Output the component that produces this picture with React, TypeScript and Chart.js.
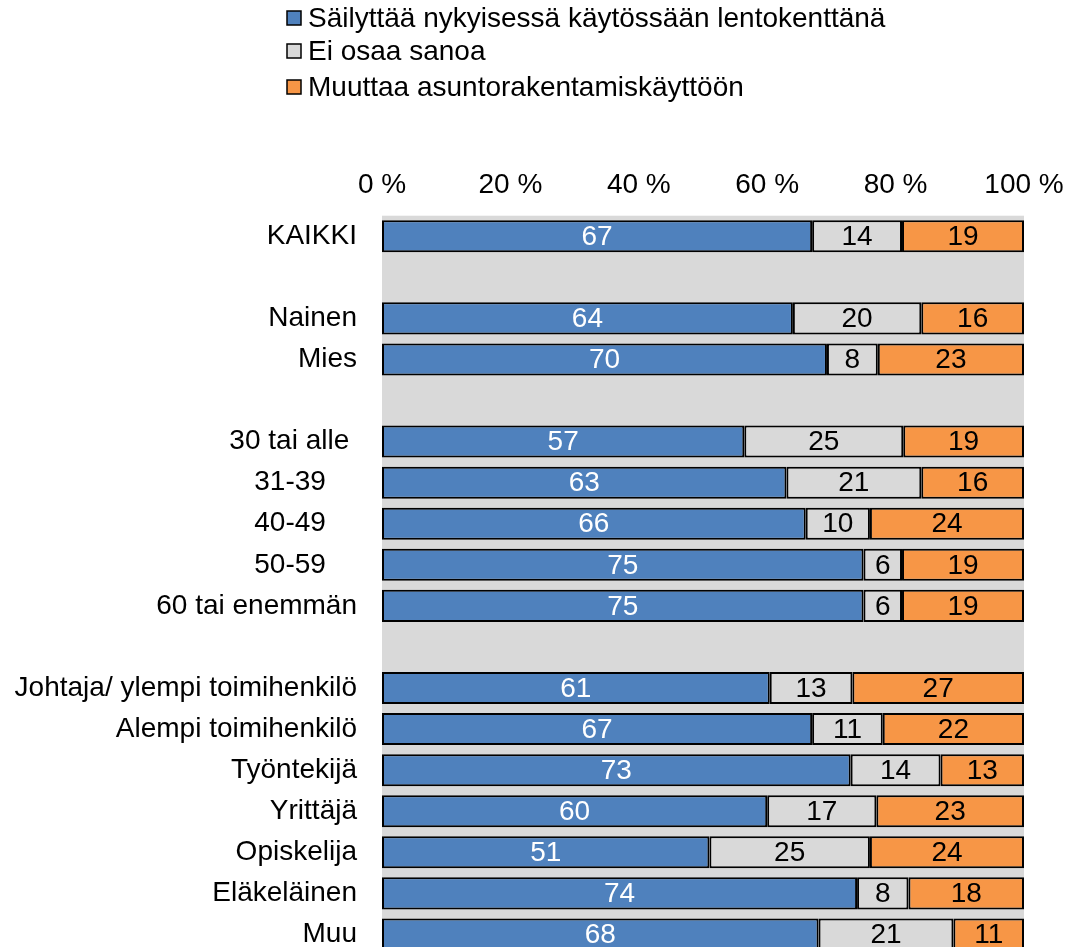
import { useEffect, useRef } from "react";
import { Chart, registerables } from "chart.js";

Chart.register(...registerables);

const categories = [
  "KAIKKI",
  "",
  "Nainen",
  "Mies",
  "",
  "30 tai alle ",
  "31-39    ",
  "40-49    ",
  "50-59    ",
  "60 tai enemmän",
  "",
  "Johtaja/ ylempi toimihenkilö",
  "Alempi toimihenkilö",
  "Työntekijä",
  "Yrittäjä",
  "Opiskelija",
  "Eläkeläinen",
  "Muu",
];

const seriesNames = [
  "Säilyttää nykyisessä käytössään lentokenttänä",
  "Ei osaa sanoa",
  "Muuttaa asuntorakentamiskäyttöön",
];

const keepValues = [67, null, 64, 70, null, 57, 63, 66, 75, 75, null, 61, 67, 73, 60, 51, 74, 68];
const dontKnowValues = [14, null, 20, 8, null, 25, 21, 10, 6, 6, null, 13, 11, 14, 17, 25, 8, 21];
const housingValues = [19, null, 16, 23, null, 19, 16, 24, 19, 19, null, 27, 22, 13, 23, 24, 18, 11];

const xTicks = [0, 20, 40, 60, 80, 100];

const colors = ["#4f81bd", "#d9d9d9", "#f79646"];
const labelColors = ["#ffffff", "#000000", "#000000"];
const FONT = "'Liberation Sans', Arial, sans-serif";
const FS = 28;

const raw = [keepValues, dontKnowValues, housingValues];
const rowSums = categories.map((_, i) =>
  raw.reduce((s, arr) => s + (arr[i] ?? 0), 0)
);
const normalized = raw.map((arr) =>
  arr.map((v, i) => (v == null ? null : (v / rowSums[i]) * 100))
);

const bgPlugin = {
  id: "plotBg",
  beforeDraw(chart: any) {
    const { ctx, chartArea } = chart;
    ctx.save();
    ctx.fillStyle = "#d9d9d9";
    ctx.fillRect(chartArea.left, chartArea.top, chartArea.right - chartArea.left, chartArea.bottom - chartArea.top);
    ctx.restore();
  },
};

const valueLabelPlugin = {
  id: "valueLabels",
  afterDatasetsDraw(chart: any) {
    const { ctx } = chart;
    ctx.save();
    ctx.font = `${FS}px ${FONT}`;
    ctx.textAlign = "center";
    ctx.textBaseline = "middle";
    chart.data.datasets.forEach((ds: any, di: number) => {
      const meta = chart.getDatasetMeta(di);
      meta.data.forEach((el: any, i: number) => {
        const v = raw[di][i];
        if (v == null) return;
        const p = el.getProps(["x", "base", "y"], true);
        ctx.fillStyle = labelColors[di];
        ctx.fillText(String(v), (p.x + p.base) / 2, p.y + 1);
      });
    });
    ctx.restore();
  },
};

const legendPlugin = {
  id: "customLegend",
  afterDraw(chart: any) {
    const { ctx } = chart;
    const ys = [18, 51, 87];
    ctx.save();
    ctx.font = `${FS}px ${FONT}`;
    ctx.textBaseline = "middle";
    ctx.textAlign = "left";
    seriesNames.forEach((name, i) => {
      const y = ys[i];
      ctx.fillStyle = colors[i];
      ctx.fillRect(287, y - 7, 14, 14);
      ctx.strokeStyle = "#000";
      ctx.lineWidth = 1.5;
      ctx.strokeRect(287, y - 7, 14, 14);
      ctx.fillStyle = "#000";
      ctx.fillText(name, 308, y + 1);
    });
    ctx.restore();
  },
};

export default function App() {
  const ref = useRef<HTMLCanvasElement>(null);
  useEffect(() => {
    const chart = new Chart(ref.current!, {
      type: "bar",
      data: {
        labels: categories,
        datasets: normalized.map((d, i) => ({
          label: seriesNames[i],
          data: d,
          backgroundColor: colors[i],
          borderColor: "#000000",
          borderWidth: 2,
          borderSkipped: false,
          barPercentage: 0.78,
          categoryPercentage: 1,
        })),
      },
      options: {
        indexAxis: "y",
        responsive: false,
        animation: false,
        layout: { padding: { top: 160, left: 0, right: 44, bottom: 10 } },
        plugins: {
          legend: { display: false },
          tooltip: { enabled: false },
        },
        scales: {
          x: {
            type: "linear",
            position: "top",
            stacked: true,
            min: 0,
            max: 100,
            grid: { display: false, drawTicks: false },
            border: { display: false },
            afterBuildTicks: (scale: any) => {
              scale.ticks = xTicks.map((v) => ({ value: v }));
            },
            ticks: {
              padding: 14,
              color: "#000",
              maxRotation: 0,
              font: { family: FONT, size: FS },
              callback: (v: any) => `${v} %`,
            },
            afterFit: (scale: any) => {
              scale.height = 55.7;
              scale.paddingLeft = 0;
              scale.paddingRight = 0;
            },
          },
          y: {
            type: "category",
            stacked: true,
            grid: { display: false, drawTicks: false },
            border: { display: false },
            ticks: {
              padding: 25,
              color: "#000",
              autoSkip: false,
              font: { family: FONT, size: FS },
            },
            afterFit: (scale: any) => {
              scale.width = 382;
              scale.paddingTop = 0;
              scale.paddingBottom = 0;
            },
          },
        },
      },
      plugins: [bgPlugin, valueLabelPlugin, legendPlugin],
    } as any);
    return () => chart.destroy();
  }, []);
  return (
    <div
      style={{
        position: "fixed",
        left: 0,
        top: 0,
        width: 1068,
        height: 947,
        overflow: "hidden",
        background: "#ffffff",
      }}
    >
      <canvas ref={ref} width={1068} height={965} style={{ display: "block", width: 1068, height: 965 }} />
    </div>
  );
}
